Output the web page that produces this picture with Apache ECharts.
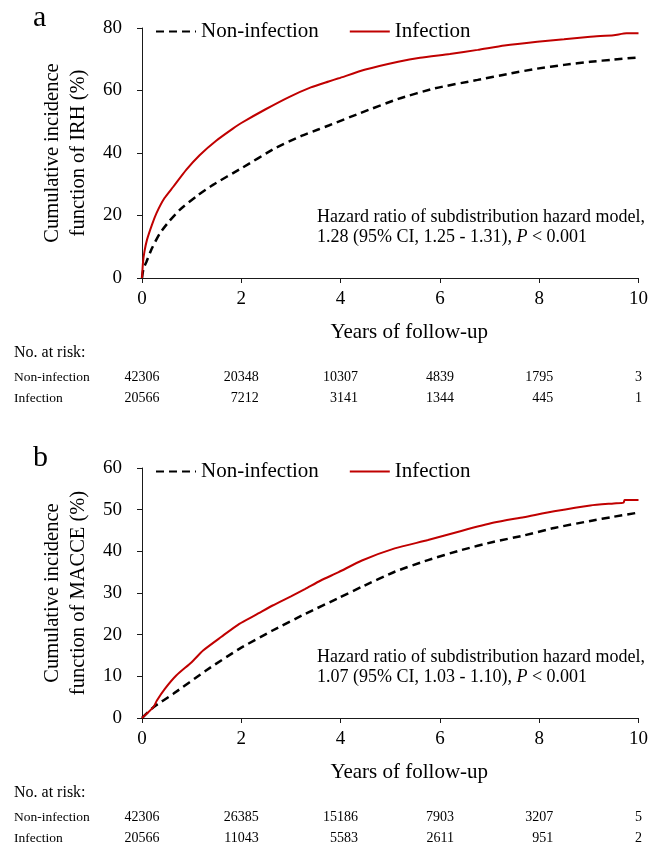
<!DOCTYPE html>
<html><head><meta charset="utf-8">
<script src="https://cdn.jsdelivr.net/npm/echarts@6/dist/echarts.min.js"></script>
<style>html,body{margin:0;padding:0;background:#fff}#c{width:651px;height:844px}</style>
</head><body><div id="c"></div>
<script>
// ---- data ----
const seriesNames = ['Non-infection', 'Infection'];
const xTicks = [0, 2, 4, 6, 8, 10];
// Panel a: IRH
const irhNonInfection = [[0,0],[0.03,3],[0.09,5.2],[0.2,9.5],[0.36,14.3],[0.55,18.2],[0.76,21.8],[1.1,26.2],[1.43,29.8],[2,35.1],[2.69,41.6],[3.2,45.4],[3.56,47.6],[3.76,48.8],[4.4,52.8],[5.16,57.3],[5.9,60.7],[6.76,63.4],[7.4,65.4],[7.96,67],[8.5,68.2],[9.03,69.2],[9.5,69.9],[10,70.6]];
const irhInfection = [[0,0],[0.02,5],[0.05,8.5],[0.1,12.2],[0.2,17],[0.29,20.7],[0.45,25.5],[0.63,29.2],[0.89,34.6],[1.16,39.3],[1.5,44],[1.83,47.8],[2,49.6],[2.49,54],[2.96,57.9],[3.4,61],[3.76,62.9],[3.96,63.9],[4.5,66.7],[5.16,69.2],[5.6,70.5],[6.2,71.7],[6.76,73],[7.3,74.4],[7.96,75.6],[8.5,76.4],[9.03,77.2],[9.5,77.7],[9.76,78.3],[10,78.3]];
// Panel b: MACCE
const macceNonInfection = [[0,0],[0.23,2.6],[0.63,5.8],[1.29,11.4],[1.96,16.6],[2.63,21],[3.29,25],[3.96,28.8],[4.43,31.5],[5.09,35.1],[5.76,37.9],[6.43,40.3],[7.09,42.3],[7.69,43.8],[8.3,45.6],[9.03,47.3],[9.5,48.3],[10,49.3]];
const macceInfection = [[0,0],[0.23,2.6],[0.3,4.2],[0.46,7],[0.69,10.2],[1,13.4],[1.23,16.2],[1.6,19.5],[1.96,22.6],[2.3,24.8],[2.63,27],[3,29.2],[3.29,31],[3.6,33],[3.96,35],[4.43,37.8],[5.09,40.7],[5.76,42.7],[6.43,44.9],[7.09,46.9],[7.69,48.2],[8.3,49.6],[9.03,51],[9.5,51.5],[9.7,51.7],[9.72,52.3],[10,52.3]];
// Numbers at risk
const irhRiskNon = [42306, 20348, 10307, 4839, 1795, 3];
const irhRiskInf = [20566, 7212, 3141, 1344, 445, 1];
const macceRiskNon = [42306, 26385, 15186, 7903, 3207, 5];
const macceRiskInf = [20566, 11043, 5583, 2611, 951, 2];
const hrTextA = ['Hazard ratio of subdistribution hazard model,', '1.28 (95% CI, 1.25 - 1.31), ', ' < 0.001'];
const hrTextB = ['Hazard ratio of subdistribution hazard model,', '1.07 (95% CI, 1.03 - 1.10), ', ' < 0.001'];

// ---- chart ----
const FONT = '"Liberation Serif", "Times New Roman", serif';
const AX = '#1a1a1a';
const RED = '#C00000';
const chart = echarts.init(document.getElementById('c'), null, {renderer: 'canvas'});

function xAxisCfg(gi) {
  return {
    type: 'value', gridIndex: gi, min: 0, max: 10, interval: 2,
    name: 'Years of follow-up', nameLocation: 'middle', nameGap: 44,
    nameTextStyle: {fontFamily: FONT, fontSize: 21, color: '#000', padding: [0, 0, 0, 38]},
    axisLine: {lineStyle: {color: AX, width: 1}},
    axisTick: {show: true, length: 5, lineStyle: {color: AX}},
    axisLabel: {fontFamily: FONT, fontSize: 19, color: '#000', margin: 12},
    splitLine: {show: false}
  };
}
function yAxisCfg(gi, max, interval, name) {
  return {
    type: 'value', gridIndex: gi, min: 0, max: max, interval: interval,
    name: name, nameLocation: 'middle', nameGap: 47, nameRotate: 90,
    nameTextStyle: {fontFamily: FONT, fontSize: 20.5, lineHeight: 26, color: '#000'},
    axisLine: {show: true, lineStyle: {color: AX, width: 1}},
    axisTick: {show: true, length: 5, lineStyle: {color: AX}},
    axisLabel: {fontFamily: FONT, fontSize: 19, color: '#000', margin: 20},
    splitLine: {show: false}
  };
}
function nonSeries(idx, data) {
  return {name: seriesNames[0], type: 'line', xAxisIndex: idx, yAxisIndex: idx, data: data,
    symbol: 'none', showSymbol: false, silent: true, animation: false, smooth: 0.2,
    lineStyle: {color: '#000', width: 2.5, type: [8, 5]}, itemStyle: {color: '#000'}};
}
function infSeries(idx, data) {
  return {name: seriesNames[1], type: 'line', xAxisIndex: idx, yAxisIndex: idx, data: data,
    symbol: 'none', showSymbol: false, silent: true, animation: false, smooth: 0.2,
    lineStyle: {color: RED, width: 2}, itemStyle: {color: RED}};
}
function legendCfg(top) {
  return {
    left: 155, top: top, itemWidth: 40, itemHeight: 12, itemGap: 30, padding: 0,
    data: seriesNames,
    itemStyle: {opacity: 0, borderWidth: 0},
    textStyle: {fontFamily: FONT, fontSize: 21, color: '#000'},
    selectedMode: false
  };
}

const option = {
  backgroundColor: '#fff',
  animation: false,
  grid: [
    {left: 142, top: 28, width: 500, height: 250},
    {left: 142, top: 468, width: 500, height: 250}
  ],
  xAxis: [xAxisCfg(0), xAxisCfg(1)],
  yAxis: [
    yAxisCfg(0, 80, 20, 'Cumulative incidence\nfunction of IRH (%)'),
    yAxisCfg(1, 60, 10, 'Cumulative incidence\nfunction of MACCE (%)')
  ],
  legend: [legendCfg(21), legendCfg(461)],
  series: [
    nonSeries(0, irhNonInfection), infSeries(0, irhInfection),
    nonSeries(1, macceNonInfection), infSeries(1, macceInfection)
  ]
};
chart.setOption(option);

// ---- graphic overlays: panel letters, HR text, risk table ----
const mctx = document.createElement('canvas').getContext('2d');
function textW(s, size) { mctx.font = size + 'px "Liberation Serif"'; return mctx.measureText(String(s)).width; }

const g = [];
function addText(x, y, text, size, align, extra) {
  g.push({type: 'text', x: x, y: y, silent: true,
    style: Object.assign({text: String(text), fontFamily: FONT, fontSize: size, fill: '#000',
      align: align || 'left', verticalAlign: 'middle'}, extra || {})});
}
function panel(gi, letter, hr, riskNon, riskInf) {
  const axisY = chart.convertToPixel({yAxisIndex: gi}, 0);
  const topY = gi === 0 ? 28 : 468;
  addText(33, topY - 10, letter, 30, 'left');
  addText(317, axisY - 61, hr[0], 18, 'left');
  g.push({type: 'text', x: 317, y: axisY - 41, silent: true,
    style: {text: '{n|' + hr[1] + '}{i|P}{n|' + hr[2] + '}', verticalAlign: 'middle', align: 'left',
      fill: '#000', fontFamily: FONT, fontSize: 18,
      rich: {n: {fontFamily: FONT, fontSize: 18, fill: '#000'},
             i: {fontFamily: FONT, fontSize: 18, fontStyle: 'italic', fill: '#000'}}}});
  addText(14, axisY + 75, 'No. at risk:', 16, 'left');
  addText(14, axisY + 99, seriesNames[0], 13.5, 'left');
  addText(14, axisY + 120, seriesNames[1], 13.5, 'left');
  xTicks.forEach((t, i) => {
    const px = chart.convertToPixel({xAxisIndex: gi}, t);
    const right = px + textW(riskNon[i], 14) / 2;
    addText(right, axisY + 99, riskNon[i], 14, 'right');
    addText(right, axisY + 120, riskInf[i], 14, 'right');
  });
}
panel(0, 'a', hrTextA, irhRiskNon, irhRiskInf);
panel(1, 'b', hrTextB, macceRiskNon, macceRiskInf);
chart.setOption({graphic: g});
</script>
</body></html>
